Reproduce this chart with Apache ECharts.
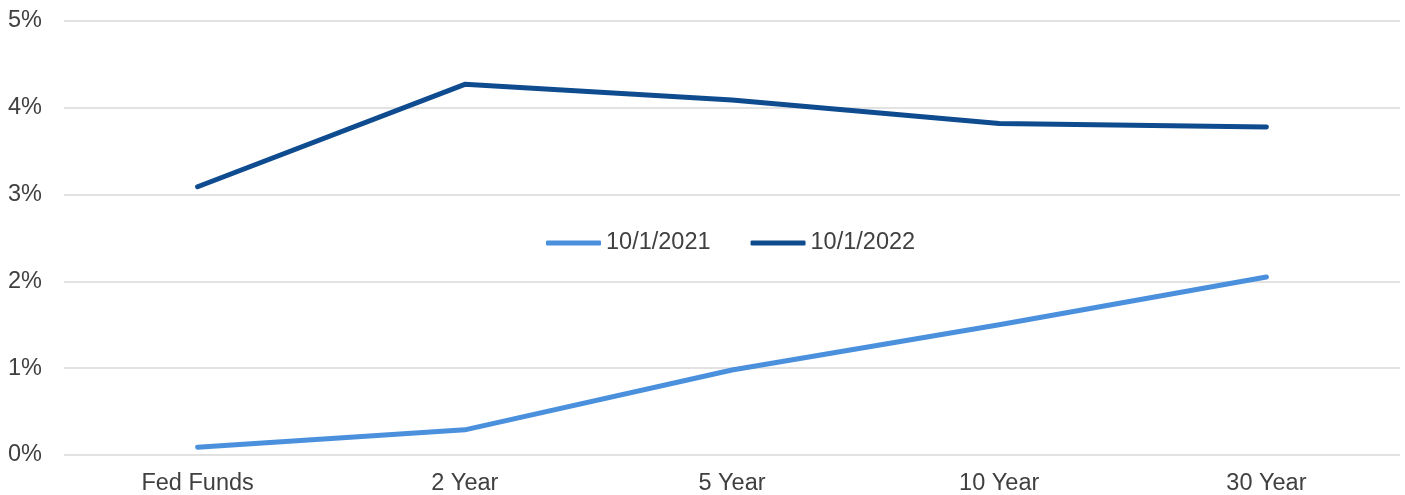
<!DOCTYPE html>
<html><head><meta charset="utf-8">
<script src="https://cdn.jsdelivr.net/npm/echarts@6/dist/echarts.min.js"></script>
<style>html,body{margin:0;padding:0;background:#fff}#c{width:1405px;height:495px}</style>
</head><body><div id="c"></div>
<script>
const categories = ['Fed Funds', '2 Year', '5 Year', '10 Year', '30 Year'];
const series2021 = [0.09, 0.29, 0.98, 1.50, 2.05];
const series2022 = [3.09, 4.27, 4.09, 3.82, 3.78];
const seriesNames = ['10/1/2021', '10/1/2022'];
const colors = ['#4a90dd', '#0f4c8f'];

const chart = echarts.init(document.getElementById('c'));
const font = 'Liberation Sans, Arial, sans-serif';
chart.setOption({
  animation: false,
  textStyle: { fontFamily: font },
  grid: { left: 64, right: 5, top: 21, bottom: 40, containLabel: false, outerBoundsMode: 'none' },
  legend: {
    data: seriesNames,
    top: 226, left: 541,
    itemWidth: 55, itemHeight: 5, itemGap: 40,
    icon: 'roundRect',
    textStyle: { fontSize: 23.5, color: '#404040', fontFamily: font }
  },
  xAxis: {
    type: 'category', data: categories, boundaryGap: true,
    axisLine: { show: false }, axisTick: { show: false },
    axisLabel: { fontSize: 23.5, color: '#404040', margin: 17, fontFamily: font }
  },
  yAxis: {
    type: 'value', min: 0, max: 5, interval: 1,
    axisLabel: { formatter: v => v + '%', fontSize: 23.5, color: '#404040', margin: 22, fontFamily: font },
    splitLine: { lineStyle: { color: '#d9d9d9', width: 1.5 } },
    axisLine: { show: false }, axisTick: { show: false }
  },
  series: [
    { name: seriesNames[0], type: 'line', data: series2021, symbol: 'none', color: colors[0],
      lineStyle: { width: 5, color: colors[0], cap: 'round', join: 'round' } },
    { name: seriesNames[1], type: 'line', data: series2022, symbol: 'none', color: colors[1],
      lineStyle: { width: 5, color: colors[1], cap: 'round', join: 'round' } }
  ]
});
</script></body></html>
